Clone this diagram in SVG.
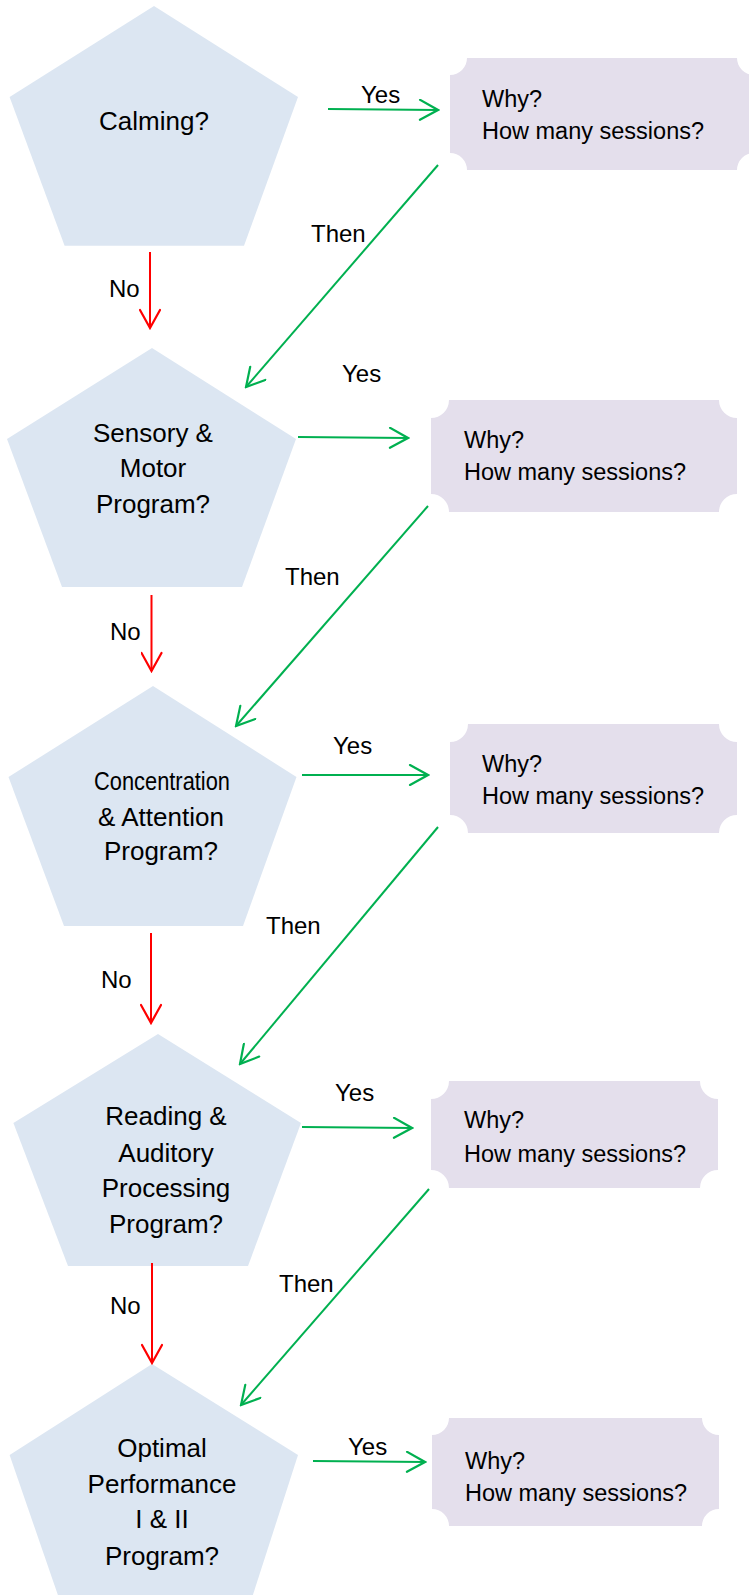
<svg xmlns="http://www.w3.org/2000/svg" width="749" height="1595" viewBox="0 0 749 1595">
<style>
  .pent { fill: #DCE6F2; stroke: none; }
  .box { fill: #E4DFEC; stroke: none; }
  .pt { font-family: "Liberation Sans", Arial, sans-serif; font-size: 26px; fill: #000; text-anchor: middle; }
  .bt { font-family: "Liberation Sans", Arial, sans-serif; font-size: 23.5px; fill: #000; }
  .lbl { font-family: "Liberation Sans", Arial, sans-serif; font-size: 24px; fill: #000; }
  .g { stroke: #00B050; stroke-width: 2; fill: none; marker-end: url(#ag); }
  .r { stroke: #FF0000; stroke-width: 2; fill: none; marker-end: url(#ar); }
</style>
<defs>
  <marker id="ag" viewBox="0 0 22 22" refX="20" refY="11" markerWidth="22" markerHeight="22" markerUnits="userSpaceOnUse" orient="auto">
    <path d="M2,1 L20,11 L2,21" fill="none" stroke="#00B050" stroke-width="2.2" stroke-linecap="round" stroke-linejoin="miter"/>
  </marker>
  <marker id="ar" viewBox="0 0 22 22" refX="20" refY="11" markerWidth="22" markerHeight="22" markerUnits="userSpaceOnUse" orient="auto">
    <path d="M2,1 L20,11 L2,21" fill="none" stroke="#FF0000" stroke-width="2.2" stroke-linecap="round" stroke-linejoin="miter"/>
  </marker>
</defs>

<g id="p1">
  <polygon class="pent" points="154,6 298,97 244,245.7 64.6,245.7 9.6,97"/>
  <text class="pt" x="154" y="130">Calming?</text>
</g>
<g id="b1">
  <path class="box" d="M467,58 H737 A17,17 0 0 0 754,75 V153 A17,17 0 0 0 737,170 H467 A17,17 0 0 0 450,153 V75 A17,17 0 0 0 467,58 Z"/>
  <text class="bt" x="482" y="107">Why?</text>
  <text class="bt" x="482" y="139">How many sessions?</text>
</g>

<g id="p2">
  <polygon class="pent" points="152,348 296,439 242,587 62,587 7,439"/>
  <text class="pt" x="153" y="442">Sensory &amp;</text>
  <text class="pt" x="153" y="477">Motor</text>
  <text class="pt" x="153" y="513">Program?</text>
</g>
<g id="b2">
  <path class="box" d="M449,400 H719 A18,18 0 0 0 737,418 V494 A18,18 0 0 0 719,512 H449 A18,18 0 0 0 431,494 V418 A18,18 0 0 0 449,400 Z"/>
  <text class="bt" x="464" y="448">Why?</text>
  <text class="bt" x="464" y="480">How many sessions?</text>
</g>

<g id="p3">
  <polygon class="pent" points="153,686 296.5,777 243,926 64,926 8.5,777"/>
  <text class="pt" x="162" y="790" textLength="136" lengthAdjust="spacingAndGlyphs">Concentration</text>
  <text class="pt" x="161" y="826">&amp; Attention</text>
  <text class="pt" x="161" y="860">Program?</text>
</g>
<g id="b3">
  <path class="box" d="M468,724 H719 A18,18 0 0 0 737,742 V815 A18,18 0 0 0 719,833 H468 A18,18 0 0 0 450,815 V742 A18,18 0 0 0 468,724 Z"/>
  <text class="bt" x="482" y="772">Why?</text>
  <text class="bt" x="482" y="804">How many sessions?</text>
</g>

<g id="p4">
  <polygon class="pent" points="158,1034 301,1123 248,1266 68,1266 13.4,1123"/>
  <text class="pt" x="166" y="1125">Reading &amp;</text>
  <text class="pt" x="166" y="1162">Auditory</text>
  <text class="pt" x="166" y="1197">Processing</text>
  <text class="pt" x="166" y="1233">Program?</text>
</g>
<g id="b4">
  <path class="box" d="M449,1081 H700 A18,18 0 0 0 718,1099 V1170 A18,18 0 0 0 700,1188 H449 A18,18 0 0 0 431,1170 V1099 A18,18 0 0 0 449,1081 Z"/>
  <text class="bt" x="464" y="1128">Why?</text>
  <text class="bt" x="464" y="1162">How many sessions?</text>
</g>

<g id="p5">
  <polygon class="pent" points="152,1364 298,1455 250,1604 61,1604 9.6,1455"/>
  <text class="pt" x="162" y="1457">Optimal</text>
  <text class="pt" x="162" y="1493">Performance</text>
  <text class="pt" x="162" y="1528">I &amp; II</text>
  <text class="pt" x="162" y="1565">Program?</text>
</g>
<g id="b5">
  <path class="box" d="M449,1418 H702 A17,17 0 0 0 719,1435 V1509 A17,17 0 0 0 702,1526 H449 A17,17 0 0 0 432,1509 V1435 A17,17 0 0 0 449,1418 Z"/>
  <text class="bt" x="465" y="1469">Why?</text>
  <text class="bt" x="465" y="1501">How many sessions?</text>
</g>

<g id="connectors">
  <line class="g" x1="328" y1="109" x2="438" y2="110"/>
  <line class="g" x1="438" y1="165" x2="246" y2="387"/>
  <line class="r" x1="150" y1="252" x2="150" y2="328"/>

  <line class="g" x1="298" y1="437" x2="408" y2="438"/>
  <line class="g" x1="428" y1="506" x2="236" y2="726"/>
  <line class="r" x1="151.5" y1="595" x2="151.5" y2="671"/>

  <line class="g" x1="302" y1="775" x2="428" y2="775"/>
  <line class="g" x1="438" y1="827" x2="240" y2="1064"/>
  <line class="r" x1="151" y1="933" x2="151" y2="1023"/>

  <line class="g" x1="302" y1="1127" x2="412" y2="1128"/>
  <line class="g" x1="429" y1="1189" x2="241" y2="1405"/>
  <line class="r" x1="152" y1="1263" x2="152" y2="1363"/>

  <line class="g" x1="313" y1="1461" x2="425" y2="1462"/>

  <text class="lbl" x="361" y="103">Yes</text>
  <text class="lbl" x="311" y="242">Then</text>
  <text class="lbl" x="109" y="297">No</text>

  <text class="lbl" x="342" y="382">Yes</text>
  <text class="lbl" x="285" y="585">Then</text>
  <text class="lbl" x="110" y="640">No</text>

  <text class="lbl" x="333" y="754">Yes</text>
  <text class="lbl" x="266" y="934">Then</text>
  <text class="lbl" x="101" y="988">No</text>

  <text class="lbl" x="335" y="1101">Yes</text>
  <text class="lbl" x="279" y="1292">Then</text>
  <text class="lbl" x="110" y="1314">No</text>

  <text class="lbl" x="348" y="1455">Yes</text>
</g>
</svg>
